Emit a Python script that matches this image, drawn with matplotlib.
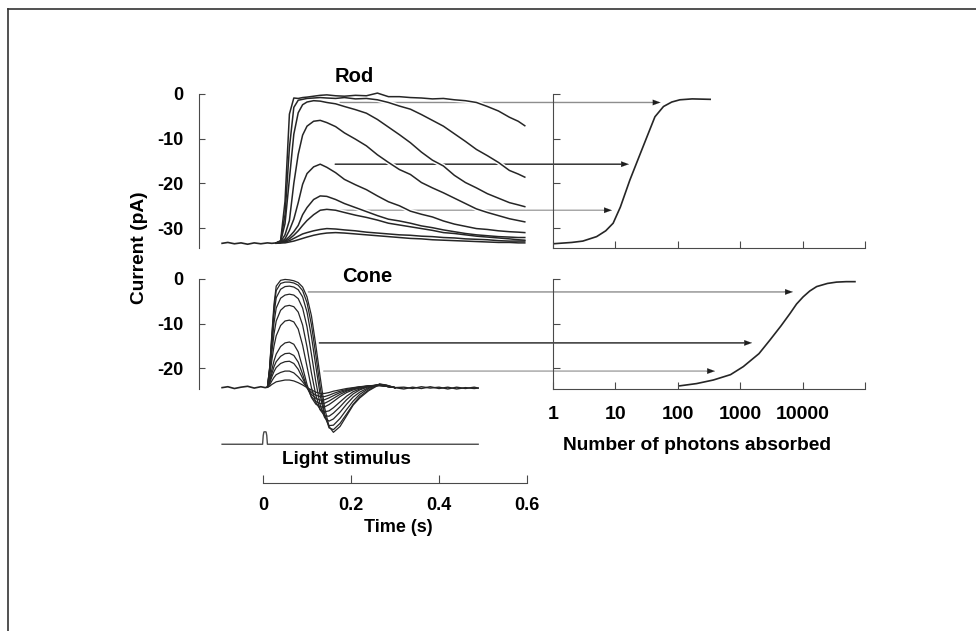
"""
Rod vs cone photocurrents and their intensity-response curves.
Traces read off the reference figure by eye.
"""
import matplotlib
matplotlib.use("Agg")
import matplotlib.pyplot as plt
from matplotlib.patches import ConnectionPatch
from matplotlib.lines import Line2D

plt.rcParams['font.family'] = ['Liberation Sans', 'DejaVu Sans']
plt.rcParams['font.weight'] = 'bold'

# ---------------------------------------------------------------------------
# Rod flash responses (time in s, current in pA)
rod_base_t = [-0.093, -0.08, -0.065, -0.05, -0.035, -0.02, -0.005, 0.01, 0.02, 0.03]
rod_base_i = [-33.4, -33.2, -33.5, -33.3, -33.6, -33.3, -33.5, -33.3, -33.4, -33.3]

rod_t = [0.03, 0.04, 0.05, 0.06, 0.07, 0.08, 0.09, 0.10, 0.115, 0.13, 0.145, 0.165,
         0.185, 0.21, 0.235, 0.26, 0.285, 0.31, 0.335, 0.36, 0.385, 0.41, 0.435,
         0.46, 0.485, 0.51, 0.535, 0.56, 0.58, 0.595]
rod_1 = [-33.3, -32.8, -24.0, -4.5, -0.9, -1.0, -0.8, -0.7, -0.5, -0.3, -0.2, -0.4,
         -0.5, -0.3, -0.4, 0.2, -0.6, -0.6, -0.8, -0.9, -1.1, -1.0, -1.3,
         -1.5, -1.9, -2.8, -3.8, -5.2, -6.1, -7.1]
rod_2 = [-33.3, -32.9, -27.0, -12.0, -3.0, -1.4, -1.2, -1.0, -0.9, -0.8, -0.9, -1.0,
         -0.8, -1.1, -1.0, -1.3, -1.9, -2.7, -3.4, -4.6, -5.9, -7.2, -8.9,
         -10.6, -12.4, -13.8, -15.3, -17.1, -17.9, -18.6]
rod_3 = [-33.3, -33.0, -29.0, -19.0, -9.0, -4.2, -2.4, -1.8, -1.5, -1.6, -1.9, -2.2,
         -2.8, -3.5, -4.3, -5.7, -7.4, -9.1, -10.9, -13.0, -14.8, -16.1, -18.2,
         -19.8, -21.0, -22.3, -23.3, -24.3, -24.8, -25.2]
rod_4 = [-33.3, -33.1, -31.5, -28.3, -20.0, -13.5, -9.2, -7.2, -6.1, -5.9, -6.4, -7.3,
         -8.7, -10.1, -11.6, -13.6, -15.3, -16.9, -18.0, -19.8, -21.0, -22.1, -23.3,
         -24.5, -25.7, -26.5, -27.2, -27.9, -28.3, -28.6]
rod_5 = [-33.3, -33.2, -32.4, -30.5, -28.0, -24.3, -20.2, -17.8, -16.3, -15.7, -16.4, -17.6,
         -19.1, -20.3, -21.4, -22.8, -24.1, -25.0, -26.2, -26.9, -27.5, -28.4, -29.1,
         -29.6, -30.1, -30.3, -30.6, -30.8, -30.9, -31.0]
rod_6 = [-33.3, -33.2, -32.8, -31.9, -30.8, -29.4, -27.0, -25.4, -23.6, -22.8, -22.9, -23.6,
         -24.5, -25.4, -26.3, -27.2, -28.0, -28.4, -28.9, -29.5, -29.9, -30.4, -30.8,
         -31.2, -31.5, -31.7, -31.9, -32.0, -32.1, -32.1]
rod_7 = [-33.3, -33.2, -33.0, -32.4, -31.6, -30.6, -29.4, -28.3, -27.0, -26.0, -25.8, -26.0,
         -26.5, -27.1, -27.6, -28.2, -28.9, -29.3, -29.7, -30.1, -30.5, -31.0, -31.2,
         -31.5, -31.8, -32.0, -32.2, -32.4, -32.6, -32.7]
rod_8 = [-33.3, -33.3, -33.1, -32.8, -32.3, -31.8, -31.3, -31.0, -30.6, -30.3, -30.1, -30.2,
         -30.4, -30.6, -30.9, -31.1, -31.3, -31.5, -31.6, -31.8, -31.9, -32.1, -32.2,
         -32.4, -32.5, -32.6, -32.8, -32.9, -32.9, -32.9]
rod_9 = [-33.4, -33.3, -33.3, -33.1, -32.9, -32.6, -32.3, -32.0, -31.6, -31.3, -31.1, -31.0,
         -31.1, -31.3, -31.5, -31.7, -31.9, -32.1, -32.3, -32.4, -32.6, -32.7, -32.8,
         -32.9, -33.0, -33.1, -33.2, -33.2, -33.3, -33.3]
rod_traces = [rod_1, rod_2, rod_3, rod_4, rod_5, rod_6, rod_7, rod_8, rod_9]

# ---------------------------------------------------------------------------
# Cone flash responses
cone_base_t = [-0.093, -0.08, -0.065, -0.05, -0.035, -0.02, -0.005, 0.005, 0.010]
cone_base_i = [-24.3, -24.1, -24.5, -24.2, -24.0, -24.4, -24.1, -24.3, -24.2]

cone_t = [0.010, 0.015, 0.020, 0.025, 0.030, 0.040, 0.050, 0.060, 0.070, 0.080, 0.090,
          0.100, 0.110, 0.120, 0.130, 0.140, 0.150, 0.160, 0.175, 0.190, 0.205, 0.220,
          0.240, 0.265, 0.280, 0.300]
cone_1 = [-24.2, -19.8, -12.4, -5.6, -1.6, -0.3, -0.1, -0.2, -0.4, -0.8, -1.8,
          -4.0, -8.2, -14.8, -22.0, -28.8, -33.0, -34.3, -33.0, -30.6, -28.2, -26.6,
          -25.0, -23.6, -23.8, -24.3]
cone_2 = [-24.2, -20.0, -13.0, -6.5, -2.6, -1.0, -0.7, -0.7, -0.9, -1.4, -2.6,
          -5.3, -10.2, -17.0, -24.2, -30.2, -33.3, -33.7, -32.3, -30.2, -28.0, -26.3,
          -24.8, -23.5, -23.7, -24.3]
cone_3 = [-24.2, -20.2, -13.8, -7.8, -4.2, -2.3, -1.7, -1.6, -1.8, -2.4, -4.0,
          -7.4, -12.8, -19.5, -26.0, -30.8, -32.8, -32.7, -31.2, -29.2, -27.3, -25.8,
          -24.5, -23.5, -23.8, -24.3]
cone_4 = [-24.2, -20.6, -15.0, -9.8, -6.5, -4.3, -3.6, -3.4, -3.6, -4.4, -6.5,
          -10.7, -16.8, -23.0, -28.2, -31.0, -31.8, -31.3, -29.8, -28.0, -26.4, -25.3,
          -24.3, -23.6, -23.9, -24.3]
cone_5 = [-24.2, -21.2, -16.5, -12.3, -9.4, -7.0, -6.1, -5.9, -6.2, -7.4, -10.3,
          -15.2, -21.0, -26.0, -29.3, -30.6, -30.7, -30.0, -28.6, -27.0, -25.7, -24.8,
          -24.1, -23.6, -24.0, -24.3]
cone_6 = [-24.2, -21.8, -18.2, -15.0, -12.7, -10.4, -9.4, -9.2, -9.6, -11.2, -14.8,
          -19.6, -24.3, -27.6, -29.2, -29.7, -29.5, -28.8, -27.5, -26.2, -25.2, -24.6,
          -24.0, -23.6, -24.0, -24.3]
cone_7 = [-24.2, -22.6, -20.3, -18.3, -16.8, -15.1, -14.3, -14.1, -14.6, -16.3, -19.8,
          -23.6, -26.5, -28.0, -28.6, -28.6, -28.1, -27.4, -26.3, -25.4, -24.8, -24.4,
          -24.0, -23.7, -24.0, -24.3]
cone_8 = [-24.2, -23.0, -21.2, -19.6, -18.5, -17.3, -16.7, -16.6, -17.1, -18.6, -21.3,
          -24.3, -26.3, -27.4, -27.9, -27.8, -27.3, -26.7, -25.8, -25.1, -24.6, -24.3,
          -23.9, -23.7, -24.0, -24.3]
cone_9 = [-24.2, -23.3, -21.9, -20.7, -19.8, -18.9, -18.5, -18.4, -18.9, -20.2, -22.2,
          -24.3, -25.8, -26.7, -27.1, -27.0, -26.6, -26.1, -25.4, -24.9, -24.5, -24.2,
          -23.9, -23.8, -24.0, -24.3]
cone_10 = [-24.2, -23.7, -22.8, -22.0, -21.4, -20.9, -20.6, -20.6, -21.0, -21.9, -23.0,
           -24.3, -25.3, -26.0, -26.3, -26.3, -26.0, -25.6, -25.1, -24.7, -24.4, -24.1,
           -23.9, -23.8, -24.0, -24.3]
cone_11 = [-24.2, -24.0, -23.6, -23.3, -23.0, -22.8, -22.6, -22.6, -22.8, -23.2, -23.7,
           -24.3, -24.8, -25.3, -25.6, -25.6, -25.4, -25.1, -24.8, -24.5, -24.3, -24.1,
           -24.0, -23.9, -24.0, -24.3]
cone_traces = [cone_1, cone_2, cone_3, cone_4, cone_5, cone_6, cone_7, cone_8,
               cone_9, cone_10, cone_11]

cone_tail_t = [0.30, 0.32, 0.34, 0.36, 0.38, 0.40, 0.42, 0.44, 0.46, 0.48, 0.489]
cone_tail_a = [-24.3, -24.6, -24.2, -24.5, -24.1, -24.5, -24.2, -24.6, -24.3, -24.5, -24.4]
cone_tail_b = [-24.3, -24.2, -24.5, -24.1, -24.4, -24.2, -24.6, -24.2, -24.5, -24.2, -24.4]

# Light stimulus (arbitrary units)
stim_t = [-0.093, -0.001, 0.0005, 0.002, 0.0045, 0.007, 0.0085, 0.010, 0.489]
stim_v = [0, 0, 0.7, 0.98, 1.0, 0.98, 0.7, 0, 0]

# ---------------------------------------------------------------------------
# Intensity-response curves (photons absorbed vs peak current)
rod_sat_n = [1, 2, 3, 5, 7, 9.2, 12, 17, 24, 32, 43, 59, 80, 108, 170, 330]
rod_sat_i = [-33.5, -33.2, -32.9, -31.9, -30.6, -28.9, -25.3, -19.3, -14.0, -9.6,
             -5.1, -2.8, -1.8, -1.3, -1.1, -1.2]
cone_sat_n = [108, 200, 371, 700, 1122, 2000, 3020, 4500, 6300, 8000, 10200, 13000,
              16800, 25000, 35000, 50000, 69000]
cone_sat_i = [-23.9, -23.4, -22.6, -21.4, -19.6, -16.7, -13.6, -10.5, -7.7, -5.6,
              -4.0, -2.7, -1.7, -1.0, -0.7, -0.6, -0.6]

# Arrows linking a response level to the curve: (start time, end photons, current)
rod_arrow_t = [0.175, 0.164, 0.164]
rod_arrow_n = [53, 16.5, 8.8]
rod_arrow_i = [-1.9, -15.7, -26.0]
cone_arrow_t = [0.103, 0.128, 0.138]
cone_arrow_n = [7000, 1550, 395]
cone_arrow_i = [-2.9, -14.3, -20.6]
arrow_colors = ['#8e8e8e', '#1e1e1e', '#a2a2a2']

rod_yticks = [0, -10, -20, -30]
cone_yticks = [0, -10, -20]
time_ticks = [0, 0.2, 0.4, 0.6]
time_labels = ['0', '0.2', '0.4', '0.6']
photon_ticks = [1, 10, 100, 1000, 10000, 100000]
photon_labels = ['1', '10', '100', '1000', '10000', '']

# ---------------------------------------------------------------------------
W, H = 976, 631
fig = plt.figure(figsize=(W / 100, H / 100), dpi=100)
INK = '#262626'
AXC = '#4a4a4a'
FS = 13


def px_axes(x0, y0, x1, y1):
    """Axes placed by pixel box (left, top, right, bottom)."""
    return fig.add_axes([x0 / W, 1 - y1 / H, (x1 - x0) / W, (y1 - y0) / H])


def style_left(ax, ylim, yticks, ybottom):
    ax.set_xlim(-0.1455, 0.6)
    ax.set_ylim(*ylim)
    ax.set_facecolor('none')
    for s in ('top', 'right', 'bottom'):
        ax.spines[s].set_visible(False)
    ax.spines['left'].set_bounds(ybottom, 0)
    ax.spines['left'].set_color(AXC)
    ax.set_xticks([])
    ax.set_yticks(yticks)
    ax.set_yticklabels([str(v) for v in yticks])
    ax.tick_params(axis='y', direction='in', length=4, width=0.8, color=AXC,
                   pad=11, labelsize=FS)


def style_right(ax, ylim, yticks, labels):
    ax.set_xscale('log')
    ax.set_xlim(1, 1e5)
    ax.set_ylim(*ylim)
    ax.set_facecolor('none')
    for s in ('top', 'right'):
        ax.spines[s].set_visible(False)
    for s in ('left', 'bottom'):
        ax.spines[s].set_color(AXC)
    ax.spines['left'].set_bounds(ylim[0], 0)
    ax.set_yticks(yticks)
    ax.set_yticklabels([])
    ax.set_xticks(photon_ticks)
    ax.minorticks_off()
    ax.set_xticklabels(photon_labels if labels else [])
    ax.tick_params(direction='in', length=5, width=0.8, color=AXC, pad=12,
                   labelsize=14)


def link(ax_from, ax_to, t0, n1, cur, color):
    con = ConnectionPatch(xyA=(t0, cur), coordsA=ax_from.transData,
                          xyB=(n1, cur), coordsB=ax_to.transData,
                          arrowstyle='-', shrinkA=0, shrinkB=6,
                          color=color, lw=1.0)
    con.set_clip_on(False)
    ax_to.add_artist(con)
    # dark head at the end of the line
    head = ConnectionPatch(xyA=(n1 / 10 ** (9 / 62.4), cur), coordsA=ax_to.transData,
                           xyB=(n1, cur), coordsB=ax_to.transData,
                           arrowstyle='-|>,head_length=0.55,head_width=0.2',
                           mutation_scale=10, shrinkA=0, shrinkB=0,
                           color='#1e1e1e', lw=0.1)
    head.set_clip_on(False)
    ax_to.add_artist(head)


ax_rod = px_axes(199, 90.4, 527, 247.8)
ax_rod_ir = px_axes(553, 90.4, 865, 247.8)
ax_cone = px_axes(199, 275.4, 527, 437.7)
ax_cone_ir = px_axes(553, 275.4, 865, 389.4)
ax_stim = px_axes(199, 428, 527, 448)
ax_time = px_axes(199, 473, 527, 483)

for a in (ax_rod, ax_cone, ax_stim, ax_time):
    a.set_zorder(3)
for a in (ax_rod_ir, ax_cone_ir):
    a.set_zorder(1)

style_left(ax_rod, (-34.4, 0.8), rod_yticks, -34.4)
style_left(ax_cone, (-35.5, 0.8), cone_yticks, -24.6)
style_right(ax_rod_ir, (-34.4, 0.8), rod_yticks, False)
style_right(ax_cone_ir, (-24.7, 0.8), cone_yticks, True)

# rod traces: white halo first so arrow lines break where traces cross them
ax_rod.plot(rod_base_t, rod_base_i, color=INK, lw=1.2, zorder=3)
for vals in rod_traces:
    ax_rod.plot(rod_t, vals, color='white', lw=3.2, zorder=2)
for vals in rod_traces:
    ax_rod.plot(rod_t, vals, color=INK, lw=1.1, zorder=3)

ax_cone.plot(cone_base_t, cone_base_i, color=INK, lw=1.2)
for vals in cone_traces:
    ax_cone.plot(cone_t, vals, color=INK, lw=0.9)
ax_cone.plot(cone_tail_t, cone_tail_a, color=INK, lw=1.0)
ax_cone.plot(cone_tail_t, cone_tail_b, color=INK, lw=1.0)

ax_rod_ir.plot(rod_sat_n, rod_sat_i, color=INK, lw=1.2)
ax_cone_ir.plot(cone_sat_n, cone_sat_i, color=INK, lw=1.2)

for t0, n1, cur, col in zip(rod_arrow_t, rod_arrow_n, rod_arrow_i, arrow_colors):
    link(ax_rod, ax_rod_ir, t0, n1, cur, col)
for t0, n1, cur, col in zip(cone_arrow_t, cone_arrow_n, cone_arrow_i, arrow_colors):
    link(ax_cone, ax_cone_ir, t0, n1, cur, col)

# light stimulus
ax_stim.plot(stim_t, stim_v, color=AXC, lw=1.0)
ax_stim.set_xlim(-0.1455, 0.6)
ax_stim.set_ylim(-0.3, 1.3)
ax_stim.axis('off')

# time scale bar
ax_time.set_xlim(-0.1455, 0.6)
ax_time.set_ylim(0, 1)
ax_time.set_facecolor('none')
for s in ('left', 'right', 'top'):
    ax_time.spines[s].set_visible(False)
ax_time.spines['bottom'].set_bounds(0, 0.6)
ax_time.spines['bottom'].set_color(AXC)
ax_time.set_yticks([])
ax_time.set_xticks(time_ticks)
ax_time.set_xticklabels(time_labels)
ax_time.tick_params(axis='x', direction='in', length=6, width=0.8, color=AXC,
                    pad=10, labelsize=FS)

# labels
fig.text(354 / W, 1 - 77 / H, 'Rod', ha='center', va='center', fontsize=14.5)
fig.text(367 / W, 1 - 277 / H, 'Cone', ha='center', va='center', fontsize=14.5)
fig.text(140 / W, 1 - 248 / H, 'Current (pA)', rotation=90, ha='center',
         va='center', fontsize=13.8)
fig.text(346 / W, 1 - 460 / H, 'Light stimulus', ha='center', va='center',
         fontsize=13.6)
fig.text(398 / W, 1 - 528 / H, 'Time (s)', ha='center', va='center', fontsize=13)
fig.text(697 / W, 1 - 445 / H, 'Number of photons absorbed', ha='center',
         va='center', fontsize=13.8)

# frame on the top and left edge
fig.add_artist(Line2D([8 / W, 1], [1 - 9 / H, 1 - 9 / H], color='#333333', lw=1.2))
fig.add_artist(Line2D([8 / W, 8 / W], [0, 1 - 9 / H], color='#333333', lw=1.2))

fig.savefig('out.png', dpi=100)
